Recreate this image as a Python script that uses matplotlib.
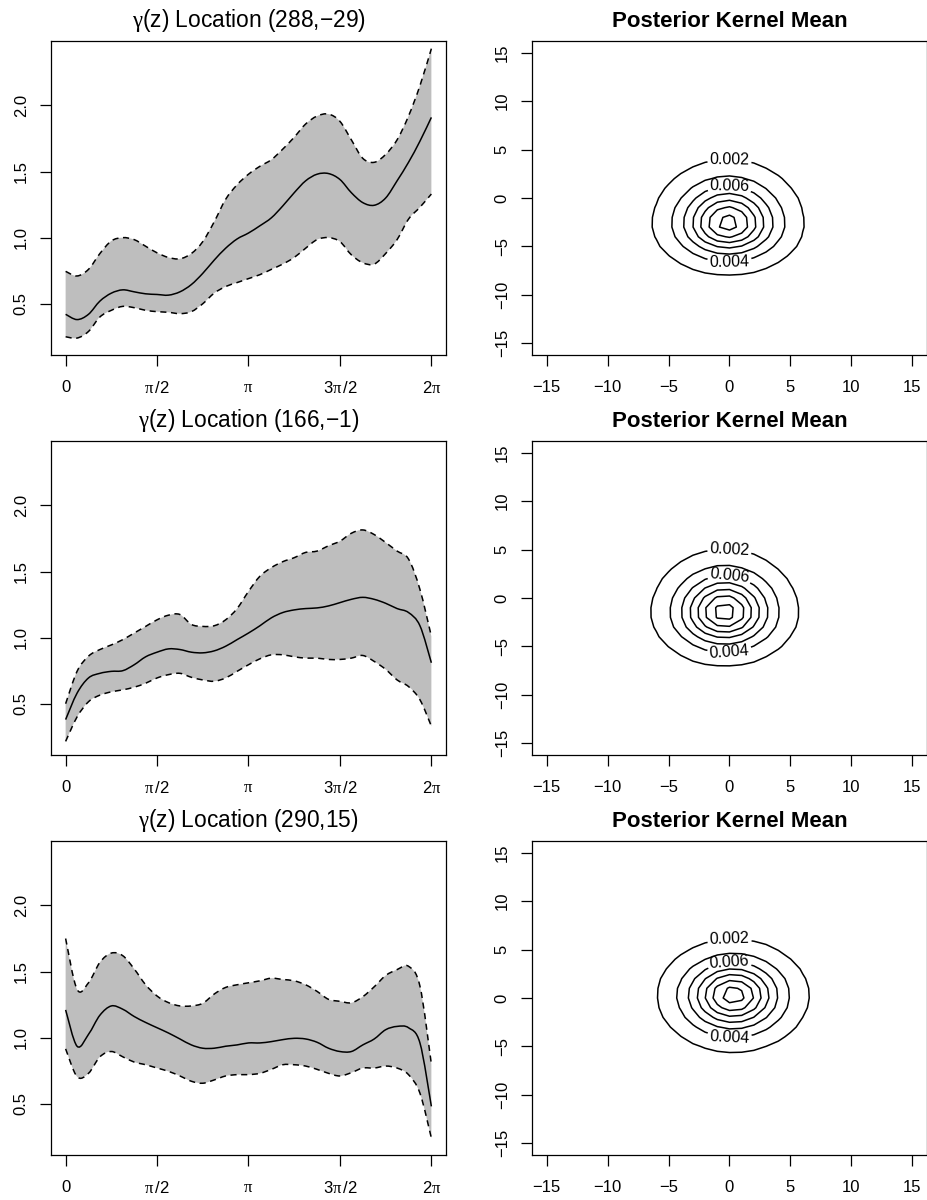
import numpy as np
import matplotlib
matplotlib.use("Agg")
import matplotlib.pyplot as plt
from matplotlib.path import Path
from matplotlib.patches import PathPatch

plt.rcParams['font.family'] = ['Liberation Sans', 'DejaVu Sans']
plt.rcParams['mathtext.fontset'] = 'custom'
plt.rcParams['mathtext.rm'] = 'Liberation Serif'
plt.rcParams['mathtext.it'] = 'Liberation Serif:italic'

# ---- gamma(z) curves: posterior mean and pointwise band, sampled every pi/16 ----
angle = np.arange(33) * np.pi / 16

location_lon = [288, 166, 290]
location_lat = [-29, -1, 15]

mean_1 = [0.42, 0.38, 0.42, 0.52, 0.58, 0.605, 0.59, 0.575, 0.57, 0.565, 0.59,
          0.645, 0.73, 0.83, 0.92, 0.99, 1.035, 1.09, 1.15, 1.24, 1.34, 1.43,
          1.48, 1.485, 1.44, 1.34, 1.265, 1.245, 1.30, 1.43, 1.57, 1.73, 1.91]
upper_1 = [0.745, 0.71, 0.76, 0.88, 0.975, 1.0, 0.985, 0.935, 0.885, 0.85, 0.84,
           0.88, 0.97, 1.12, 1.29, 1.40, 1.48, 1.54, 1.59, 1.67, 1.76, 1.86,
           1.92, 1.935, 1.88, 1.74, 1.60, 1.57, 1.63, 1.74, 1.92, 2.15, 2.43]
lower_1 = [0.25, 0.24, 0.29, 0.40, 0.45, 0.48, 0.47, 0.45, 0.44, 0.435, 0.425,
           0.44, 0.50, 0.58, 0.63, 0.66, 0.69, 0.72, 0.76, 0.80, 0.85, 0.92,
           0.985, 1.0, 0.97, 0.87, 0.81, 0.80, 0.88, 0.985, 1.14, 1.23, 1.33]

mean_2 = [0.38, 0.58, 0.695, 0.73, 0.745, 0.75, 0.795, 0.855, 0.89, 0.915, 0.91,
          0.89, 0.885, 0.90, 0.935, 0.985, 1.035, 1.09, 1.15, 1.19, 1.21, 1.22,
          1.225, 1.24, 1.265, 1.29, 1.305, 1.29, 1.26, 1.22, 1.19, 1.09, 0.81]
upper_2 = [0.50, 0.745, 0.86, 0.91, 0.945, 0.985, 1.035, 1.085, 1.135, 1.17, 1.175,
           1.10, 1.085, 1.09, 1.135, 1.22, 1.35, 1.465, 1.53, 1.575, 1.605, 1.645,
           1.655, 1.695, 1.73, 1.79, 1.815, 1.78, 1.72, 1.655, 1.595, 1.365, 1.01]
lower_2 = [0.215, 0.40, 0.515, 0.565, 0.59, 0.605, 0.625, 0.655, 0.695, 0.72, 0.73,
           0.70, 0.68, 0.67, 0.695, 0.745, 0.795, 0.84, 0.87, 0.87, 0.855, 0.845,
           0.845, 0.835, 0.835, 0.845, 0.865, 0.82, 0.76, 0.68, 0.63, 0.53, 0.33]

mean_3 = [1.21, 0.935, 1.025, 1.17, 1.24, 1.215, 1.16, 1.115, 1.075, 1.035, 0.99,
          0.945, 0.92, 0.92, 0.935, 0.945, 0.96, 0.96, 0.97, 0.985, 0.995, 0.99,
          0.965, 0.92, 0.895, 0.895, 0.945, 0.99, 1.06, 1.085, 1.075, 0.96, 0.48]
upper_3 = [1.75, 1.365, 1.415, 1.57, 1.64, 1.62, 1.52, 1.40, 1.315, 1.265, 1.24,
           1.24, 1.26, 1.33, 1.38, 1.40, 1.415, 1.43, 1.45, 1.44, 1.43, 1.40,
           1.35, 1.29, 1.275, 1.264, 1.31, 1.385, 1.47, 1.515, 1.54, 1.39, 0.80]
lower_3 = [0.915, 0.705, 0.73, 0.855, 0.895, 0.855, 0.815, 0.795, 0.77, 0.745, 0.71,
           0.67, 0.655, 0.68, 0.71, 0.72, 0.72, 0.73, 0.76, 0.795, 0.795, 0.785,
           0.76, 0.73, 0.71, 0.735, 0.77, 0.77, 0.785, 0.77, 0.72, 0.58, 0.24]

means = [mean_1, mean_2, mean_3]
uppers = [upper_1, upper_2, upper_3]
lowers = [lower_1, lower_2, lower_3]

angle_ticks = [0, np.pi / 2, np.pi, 3 * np.pi / 2, 2 * np.pi]
angle_tick_labels = ["0", r"$\mathrm{\pi}\,$/2", r"$\mathrm{\pi}$",
                     r"3$\mathrm{\pi}\,$/2", r"2$\mathrm{\pi}$"]
gamma_ticks = [0.5, 1.0, 1.5, 2.0]
gamma_tick_labels = ["0.5", "1.0", "1.5", "2.0"]

# ---- posterior kernel mean: heavy-tailed elliptical kernel per location ----
kernel_peak = [0.0150, 0.0151, 0.0152]
kernel_center_x = [-0.1, -0.39, 0.3]
kernel_center_y = [-2.66, -1.49, 0.27]
kernel_scale_x = [5.07, 4.9, 5.03]
kernel_scale_up = [5.4, 5.3, 4.7]
kernel_scale_down = [4.31, 4.5, 4.75]
kernel_tail = 2.2
kernel_grid = np.linspace(-15, 15, 31)
kernel_levels = [0.002, 0.004, 0.006, 0.008, 0.010, 0.012, 0.014]
kernel_ticks = [-15, -10, -5, 0, 5, 10, 15]

W, H = 928, 1200
fig = plt.figure(figsize=(W / 100, H / 100), dpi=100)


def axes_px(x0, y0, x1, y1):
    return fig.add_axes([x0 / W, 1 - y1 / H, (x1 - x0) / W, (y1 - y0) / H])


def minus(s):
    return str(s).replace("-", "\u2212")


def smooth_segments(x, y):
    """Cubic Bezier segments passing through every (x, y) sample."""
    pts = np.column_stack([x, y]).astype(float)
    ext = np.vstack([pts[0], pts, pts[-1]])
    verts, codes = [], []
    for i in range(len(pts) - 1):
        p0, p1, p2, p3 = ext[i], ext[i + 1], ext[i + 2], ext[i + 3]
        verts += [p1 + (p2 - p0) / 6, p2 - (p3 - p1) / 6, p2]
        codes += [Path.CURVE4] * 3
    return pts, verts, codes


def smooth_line(ax, x, y, **kw):
    pts, verts, codes = smooth_segments(x, y)
    path = Path([pts[0]] + verts, [Path.MOVETO] + codes)
    ax.add_patch(PathPatch(path, fill=False, **kw))


def smooth_band(ax, x, lo, hi, **kw):
    up_pts, up_v, up_c = smooth_segments(x, hi)
    lo_pts, lo_v, lo_c = smooth_segments(x[::-1], lo[::-1])
    verts = [up_pts[0]] + up_v + [lo_pts[0]] + lo_v + [up_pts[0]]
    codes = [Path.MOVETO] + up_c + [Path.LINETO] + lo_c + [Path.CLOSEPOLY]
    ax.add_patch(PathPatch(Path(verts, codes), **kw))


def style(ax):
    for sp in ax.spines.values():
        sp.set_linewidth(0.9)
    ax.tick_params(direction='out', length=8, width=0.9, labelsize=12,
                   colors='black')
    ax.tick_params(axis='x', pad=10)
    ax.tick_params(axis='y', pad=8)


def rotate_y(ax):
    for lab in ax.get_yticklabels():
        lab.set_rotation(90)
        lab.set_va('center')
        lab.set_ha('right')


dash = (0, (4, 3))
for r in range(3):
    top = 41 + 400 * r
    bottom = 355 + 400 * r

    # left: gamma(z) with credible band
    ax = axes_px(51, top, 446, bottom)
    lo = np.asarray(lowers[r])
    hi = np.asarray(uppers[r])
    smooth_band(ax, angle, lo, hi, facecolor='#BEBEBE', edgecolor='none', linewidth=0)
    smooth_line(ax, angle, hi, edgecolor='black', lw=1.1, linestyle=dash)
    smooth_line(ax, angle, lo, edgecolor='black', lw=1.1, linestyle=dash)
    smooth_line(ax, angle, means[r], edgecolor='black', lw=1.1)
    span = 2 * np.pi
    ax.set_xlim(-0.04 * span, span * 1.04)
    ax.set_ylim(0.2 - 0.04 * 2.2, 2.4 + 0.04 * 2.2)
    ax.set_xticks(angle_ticks)
    ax.set_xticklabels(angle_tick_labels)
    ax.set_yticks(gamma_ticks)
    ax.set_yticklabels(gamma_tick_labels)
    style(ax)
    rotate_y(ax)
    ax.set_title(r"$\mathrm{\gamma}$(z) Location (%s,%s)"
                 % (location_lon[r], minus(location_lat[r])),
                 fontsize=16.4, pad=10)

    # right: contour of the kernel mean
    ax2 = axes_px(532, top, 927, bottom)
    X, Y = np.meshgrid(kernel_grid, kernel_grid)
    dx = X - kernel_center_x[r]
    dy = Y - kernel_center_y[r]
    sy = np.where(dy > 0, kernel_scale_up[r], kernel_scale_down[r])
    Z = kernel_peak[r] * (1 + (dx / kernel_scale_x[r]) ** 2 + (dy / sy) ** 2) ** (-kernel_tail)
    cs = ax2.contour(X, Y, Z, levels=kernel_levels, colors='black', linewidths=1.1)
    spots = []
    for lev, side in ((0.002, 'top'), (0.006, 'top'), (0.004, 'bottom')):
        idx = kernel_levels.index(lev)
        verts = cs.get_paths()[idx].vertices
        pick = np.argmax(verts[:, 1]) if side == 'top' else np.argmin(verts[:, 1])
        spots.append(tuple(verts[pick]))
    cs.clabel(manual=spots, fmt=lambda v: "%.3f" % v, fontsize=11.5,
              inline=True, inline_spacing=4, colors='black')
    ax2.set_xlim(-16.2, 16.2)
    ax2.set_ylim(-16.2, 16.2)
    ax2.set_xticks(kernel_ticks)
    ax2.set_xticklabels([minus(t) for t in kernel_ticks])
    ax2.set_yticks(kernel_ticks)
    ax2.set_yticklabels([minus(t) for t in kernel_ticks])
    style(ax2)
    rotate_y(ax2)
    ax2.set_title("Posterior Kernel Mean", fontsize=16, fontweight='bold', pad=10)

fig.savefig("out.png", dpi=100, facecolor='white')
